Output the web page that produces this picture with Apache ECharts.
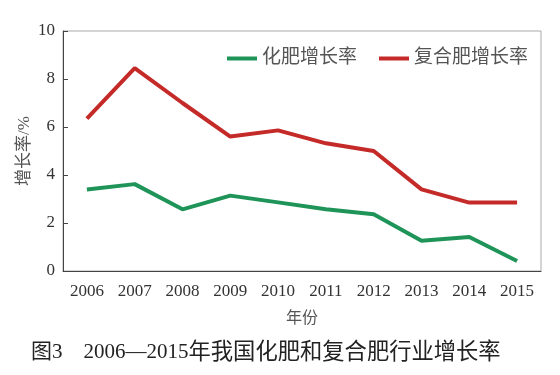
<!DOCTYPE html>
<html><head><meta charset="utf-8">
<script src="https://cdn.jsdelivr.net/npm/echarts@6/dist/echarts.min.js"></script>
<style>html,body{margin:0;padding:0;background:#fff}#c{width:560px;height:375px}</style>
</head><body><div id="c"></div>
<script>
const years = ['2006','2007','2008','2009','2010','2011','2012','2013','2014','2015'];
const fertilizer = [3.4, 3.62, 2.57, 3.14, 2.86, 2.57, 2.36, 1.26, 1.42, 0.42];
const compound = [6.35, 8.45, 7.0, 5.6, 5.86, 5.32, 5.0, 3.4, 2.85, 2.85];
const seriesNames = ['化肥增长率', '复合肥增长率'];
const yTicks = [0, 2, 4, 6, 8, 10];

const FONT = "'Liberation Serif','Noto Sans CJK SC',serif";
const chart = echarts.init(document.getElementById('c'));
chart.setOption({
  animation: false,
  backgroundColor: '#fff',
  grid: {left: 63, right: 19, top: 31, bottom: 104, show: true, borderColor: '#aaa', borderWidth: 1},
  title: {
    text: '{a|图3　2006—2015}{b|年我国化肥和复合肥行业增长率}',
    left: 26, bottom: 6,
    textStyle: {
      fontFamily: FONT, fontSize: 21, fontWeight: 'normal', color: '#222',
      rich: {
        a: {fontFamily: FONT, fontSize: 21, color: '#222'},
        b: {fontFamily: FONT, fontSize: 22.3, color: '#222'}
      }
    }
  },
  legend: {
    top: 44, right: 27, itemWidth: 30, itemHeight: 4, itemGap: 22,
    icon: 'rect',
    textStyle: {fontFamily: FONT, fontSize: 19, color: '#555'},
    data: seriesNames
  },
  xAxis: {
    type: 'category', data: years, boundaryGap: true,
    name: '年份', nameLocation: 'middle', nameGap: 40,
    nameTextStyle: {fontFamily: FONT, fontSize: 16, color: '#555'},
    axisLine: {lineStyle: {color: '#444', width: 1}},
    axisTick: {inside: true, alignWithLabel: true, length: 5, lineStyle: {color: '#444'}},
    axisLabel: {fontFamily: FONT, fontSize: 17, color: '#333', margin: 12}
  },
  yAxis: {
    type: 'value', min: yTicks[0], max: yTicks[yTicks.length-1], interval: 2,
    name: '增长率/%', nameLocation: 'middle', nameGap: 30, nameRotate: 90,
    nameMoveOverlap: false,
    nameTextStyle: {fontFamily: FONT, fontSize: 17, color: '#555'},
    axisLine: {show: true, lineStyle: {color: '#444', width: 1}},
    axisTick: {show: true, inside: true, length: 5, lineStyle: {color: '#444'}},
    splitLine: {show: false},
    axisLabel: {fontFamily: FONT, fontSize: 17, color: '#333', margin: 8}
  },
  series: [
    {name: seriesNames[0], type: 'line', data: fertilizer, symbol: 'none',
     lineStyle: {width: 4, color: '#1f9458'}, itemStyle: {color: '#1f9458'}},
    {name: seriesNames[1], type: 'line', data: compound, symbol: 'none',
     lineStyle: {width: 4, color: '#c42a28'}, itemStyle: {color: '#c42a28'}}
  ]
});
</script></body></html>
